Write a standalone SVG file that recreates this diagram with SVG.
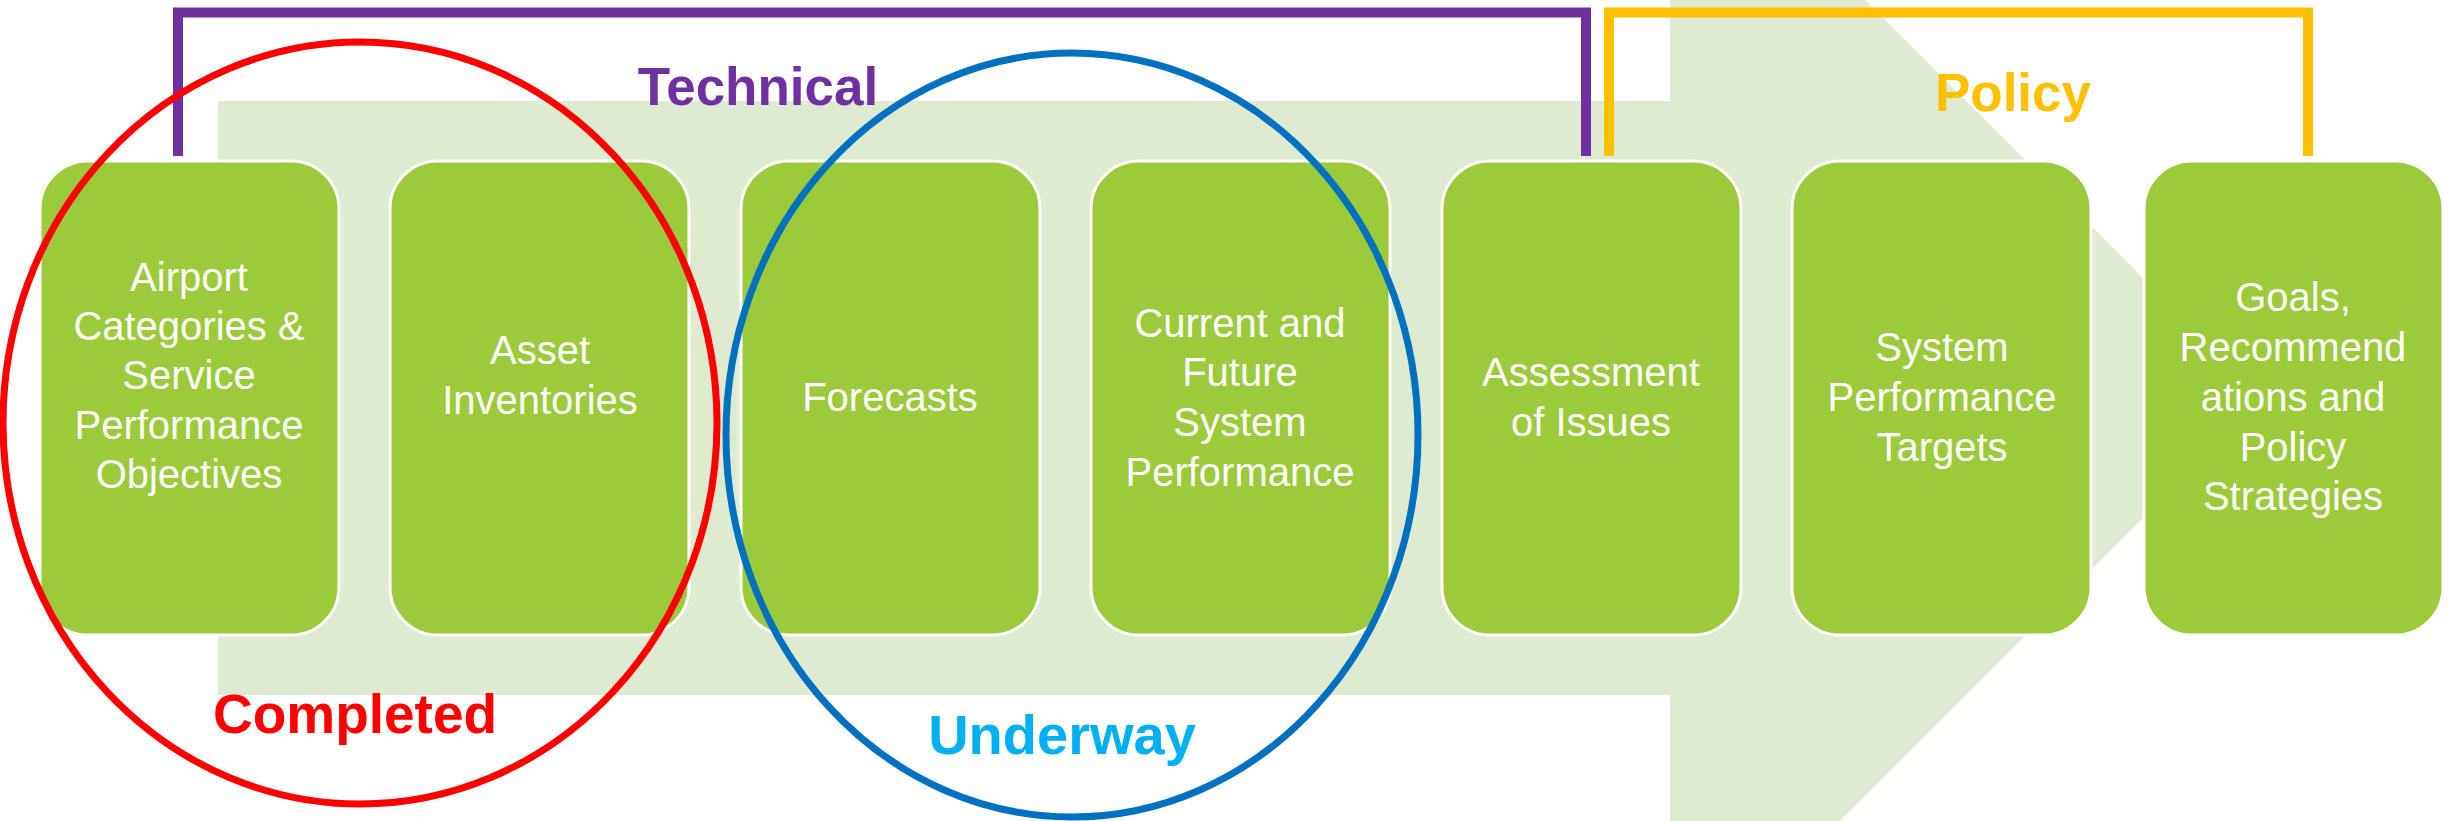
<svg xmlns="http://www.w3.org/2000/svg" width="2458" height="821" viewBox="0 0 2458 821">
<style>
.box{fill:#9BCB3A;stroke:#FFFFFF;stroke-width:3}
.bt{font-family:"Liberation Sans",Arial,sans-serif;font-size:40px;fill:#FFFFFF;text-anchor:middle}
.lbl{font-family:"Liberation Sans",Arial,sans-serif;font-size:53px;font-weight:bold;text-anchor:middle}
.br{fill:none;stroke-width:10;stroke-linejoin:miter}
</style>
<rect width="2458" height="821" fill="#FFFFFF"/>
<g id="arrow">
<polygon points="218,101 1670,101 1670,-195 2263,398 1670,991 1670,695 218,695" fill="#DEEBD1"/>
</g>
<g id="connectors">
<polyline class="br" points="178,156 178,12.5 1586,12.5 1586,156" stroke="#7030A0"/>
<polyline class="br" points="1609,156 1609,12.5 2308,12.5 2308,156" stroke="#FFC000"/>
</g>
<g id="node1"><rect class="box" x="40" y="161" width="299" height="474" rx="48"/>
<text class="bt" x="189"><tspan x="189" y="291">Airport</tspan><tspan x="189" y="340">Categories &amp;</tspan><tspan x="189" y="389">Service</tspan><tspan x="189" y="439">Performance</tspan><tspan x="189" y="488">Objectives</tspan></text></g>
<g id="node2"><rect class="box" x="390" y="161" width="299" height="474" rx="48"/>
<text class="bt"><tspan x="540" y="364">Asset</tspan><tspan x="540" y="414">Inventories</tspan></text></g>
<g id="node3"><rect class="box" x="741" y="161" width="299" height="474" rx="48"/>
<text class="bt" x="890" y="411">Forecasts</text></g>
<g id="node4"><rect class="box" x="1091" y="161" width="299" height="474" rx="48"/>
<text class="bt"><tspan x="1240" y="337">Current and</tspan><tspan x="1240" y="386">Future</tspan><tspan x="1240" y="436">System</tspan><tspan x="1240" y="486">Performance</tspan></text></g>
<g id="node5"><rect class="box" x="1442" y="161" width="299" height="474" rx="48"/>
<text class="bt"><tspan x="1591" y="386">Assessment</tspan><tspan x="1591" y="436">of Issues</tspan></text></g>
<g id="node6"><rect class="box" x="1792" y="161" width="299" height="474" rx="48"/>
<text class="bt"><tspan x="1942" y="361">System</tspan><tspan x="1942" y="411">Performance</tspan><tspan x="1942" y="461">Targets</tspan></text></g>
<g id="node7"><rect class="box" x="2144" y="161" width="299" height="474" rx="48"/>
<text class="bt"><tspan x="2293" y="311">Goals,</tspan><tspan x="2293" y="361">Recommend</tspan><tspan x="2293" y="411">ations and</tspan><tspan x="2293" y="461">Policy</tspan><tspan x="2293" y="510">Strategies</tspan></text></g>
<g id="ellipses">
<ellipse cx="360" cy="423" rx="357" ry="381" fill="none" stroke="#FF0000" stroke-width="7"/>
<ellipse cx="1072" cy="435" rx="346" ry="382" fill="none" stroke="#0070C0" stroke-width="7"/>
</g>
<g id="labels">
<text class="lbl" x="758" y="105" fill="#7030A0">Technical</text>
<text class="lbl" x="2013" y="111" fill="#FFC000">Policy</text>
<text class="lbl" x="355" y="733" fill="#FF0000" style="font-size:55px">Completed</text>
<text class="lbl" x="1062" y="754" fill="#00B0F0" style="font-size:56px">Underway</text>
</g>
</svg>
